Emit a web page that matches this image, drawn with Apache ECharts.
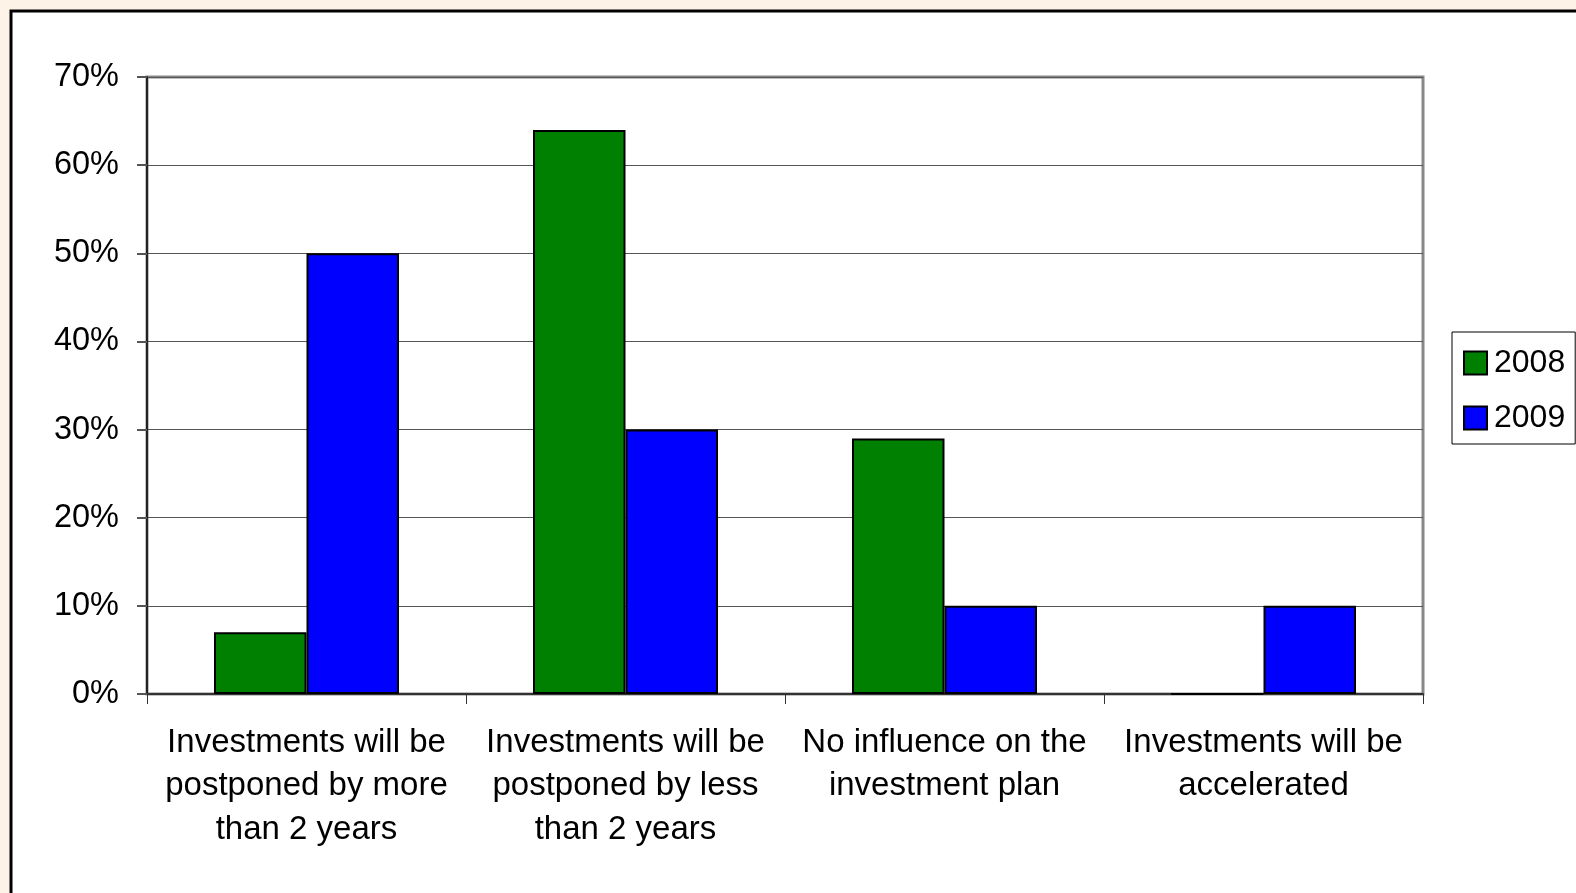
<!DOCTYPE html>
<html>
<head>
<meta charset="utf-8">
<script src="https://cdn.jsdelivr.net/npm/echarts@6/dist/echarts.min.js"></script>
<style>
html,body{margin:0;padding:0;background:#FDF3E7;}
#chart{width:1576px;height:893px;}
</style>
</head>
<body>
<div id="chart"></div>
<script>
const categories = [
  "Investments will be\npostponed by more\nthan 2 years",
  "Investments will be\npostponed by less\nthan 2 years",
  "No influence on the\ninvestment plan",
  "Investments will be\naccelerated"
];
const values2008 = [7, 64, 29, 0];
const values2009 = [50, 30, 10, 10];
const seriesNames = ["2008", "2009"];
const yTicks = [0, 10, 20, 30, 40, 50, 60, 70];

const chart = echarts.init(document.getElementById('chart'), null, {renderer: 'canvas'});
const font = 'Liberation Sans, Arial, sans-serif';
chart.setOption({
  backgroundColor: '#FDF3E7',
  animation: false,
  graphic: [
    {type: 'rect', z: -10, shape: {x: 11, y: 11, width: 1620, height: 940},
     style: {fill: '#FFFFFF', stroke: '#000000', lineWidth: 3}},
    {type: 'rect', z: -5, shape: {x: 147, y: 77, width: 1276, height: 617},
     style: {fill: 'none', stroke: '#888888', lineWidth: 3}}
  ],
  grid: {left: 147, top: 77, right: 153, bottom: 199, containLabel: false},
  legend: {
    orient: 'vertical',
    left: 1452, top: 332,
    width: 123,
    padding: [15, 10, 10, 11],
    borderColor: '#000000', borderWidth: 1,
    backgroundColor: '#FFFFFF',
    itemWidth: 23, itemHeight: 23, itemGap: 23,
    icon: 'rect',
    textStyle: {fontFamily: font, fontSize: 32, color: '#000', lineHeight: 31, padding: [0, 0, 0, 2]},
    data: seriesNames
  },
  xAxis: {
    type: 'category',
    data: categories,
    axisLine: {show: true, lineStyle: {color: '#333', width: 2}},
    axisTick: {show: true, length: 10, alignWithLabel: false, lineStyle: {color: '#333', width: 1}},
    axisLabel: {fontFamily: font, fontSize: 33, color: '#000', margin: 27, lineHeight: 43.5, interval: 0}
  },
  yAxis: {
    type: 'value',
    min: 0, max: 70, interval: 10,
    axisLine: {show: true, lineStyle: {color: '#222', width: 2}},
    axisTick: {show: true, length: 10, inside: false, lineStyle: {color: '#555', width: 2}},
    axisLabel: {fontFamily: font, fontSize: 32.5, color: '#000', margin: 28,
      formatter: v => (yTicks.indexOf(v) >= 0 ? v + '%' : '')},
    splitLine: {show: true, lineStyle: {color: '#555', width: 1}}
  },
  series: [
    {name: seriesNames[0], type: 'bar', data: values2008, barGap: '0%', barCategoryGap: '42%',
     itemStyle: {color: '#008000', borderColor: '#000', borderWidth: 2}},
    {name: seriesNames[1], type: 'bar', data: values2009, barGap: '0%', barCategoryGap: '42%',
     itemStyle: {color: '#0000FF', borderColor: '#000', borderWidth: 2}}
  ]
});
</script>
</body>
</html>
